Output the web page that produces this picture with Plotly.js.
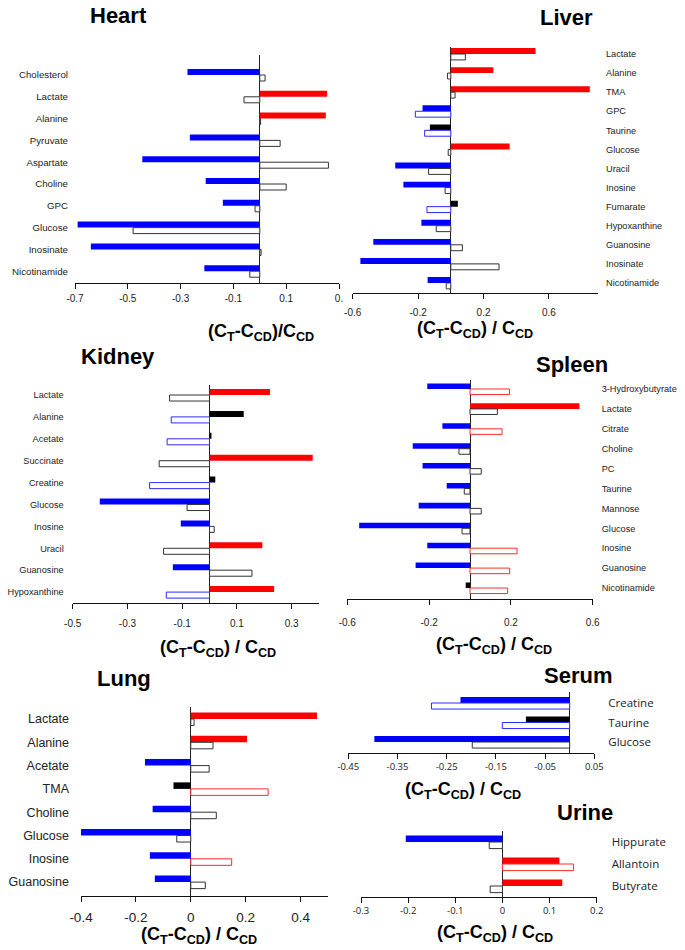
<!DOCTYPE html>
<html>
<head>
<meta charset="utf-8">
<script src="https://cdn.plot.ly/plotly-3.0.1.min.js"></script>
<style>html,body{margin:0;padding:0;background:#fff;}#chart{width:685px;height:950px;}</style>
</head>
<body>
<div id="chart"></div>
<script>
// ---------------- DATA ----------------
// A = filled bars (upper), B = hollow bars (lower); sig: 'u' increase, 'd' decrease, 'n' not significant
const heartCats = ['Cholesterol','Lactate','Alanine','Pyruvate','Aspartate','Choline','GPC','Glucose','Inosinate','Nicotinamide'];
const heartA = [-0.274, 0.255, 0.25, -0.265, -0.445, -0.205, -0.14, -0.69, -0.64, -0.21];
const heartB = [0.02, -0.06, 0.003, 0.077, 0.26, 0.1, -0.018, -0.48, 0.005, -0.038];
const heartSigA = ['d','u','u','d','d','d','d','d','d','d'];
const heartSigB = ['n','n','n','n','n','n','n','n','n','n'];
const heartTicks = [-0.7,-0.5,-0.3,-0.1,0.1,0.3];
const heartTickText = ['-0.7','-0.5','-0.3','-0.1','0.1','0.'];

const liverCats = ['Lactate','Alanine','TMA','GPC','Taurine','Glucose','Uracil','Inosine','Fumarate','Hypoxanthine','Guanosine','Inosinate','Nicotinamide'];
const liverA = [0.518, 0.26, 0.85, -0.173, -0.128, 0.36, -0.34, -0.29, 0.043, -0.18, -0.474, -0.553, -0.142];
const liverB = [0.089, -0.02, 0.026, -0.217, -0.16, -0.016, -0.136, -0.035, -0.146, -0.089, 0.071, 0.295, -0.028];
const liverSigA = ['u','u','u','d','n','u','d','d','n','d','d','d','d'];
const liverSigB = ['n','n','n','d','d','n','n','n','d','n','n','n','n'];
const liverTicks = [-0.6,-0.2,0.2,0.6];
const liverTickText = ['-0.6','-0.2','0.2','0.6'];

const kidneyCats = ['Lactate','Alanine','Acetate','Succinate','Creatine','Glucose','Inosine','Uracil','Guanosine','Hypoxanthine'];
const kidneyA = [0.221, 0.125, 0.007, 0.377, 0.021, -0.401, -0.105, 0.193, -0.134, 0.236];
const kidneyB = [-0.146, -0.14, -0.155, -0.184, -0.219, -0.082, 0.017, -0.168, 0.155, -0.158];
const kidneySigA = ['u','n','n','u','n','d','d','u','d','u'];
const kidneySigB = ['n','d','d','n','d','n','n','n','n','d'];
const kidneyTicks = [-0.5,-0.3,-0.1,0.1,0.3];
const kidneyTickText = ['-0.5','-0.3','-0.1','0.1','0.3'];

const spleenCats = ['3-Hydroxybutyrate','Lactate','Citrate','Choline','PC','Taurine','Mannose','Glucose','Inosine','Guanosine','Nicotinamide'];
const spleenA = [-0.209, 0.535, -0.135, -0.28, -0.232, -0.114, -0.251, -0.542, -0.209, -0.266, -0.021];
const spleenB = [0.193, 0.134, 0.157, -0.054, 0.055, -0.028, 0.055, -0.039, 0.23, 0.194, 0.184];
const spleenSigA = ['d','u','d','d','d','d','d','d','d','d','n'];
const spleenSigB = ['u','n','u','n','n','n','n','n','u','u','u'];
const spleenTicks = [-0.6,-0.2,0.2,0.6];
const spleenTickText = ['-0.6','-0.2','0.2','0.6'];

const lungCats = ['Lactate','Alanine','Acetate','TMA','Choline','Glucose','Inosine','Guanosine'];
const lungA = [0.46, 0.205, -0.167, -0.063, -0.139, -0.4, -0.149, -0.131];
const lungB = [0.012, 0.081, 0.067, 0.282, 0.093, -0.051, 0.149, 0.053];
const lungSigA = ['u','u','d','n','d','d','d','d'];
const lungSigB = ['n','n','n','u','n','n','u','n'];
const lungTicks = [-0.4,-0.2,0,0.2,0.4];
const lungTickText = ['-0.4','-0.2','0','0.2','0.4'];

const serumCats = ['Creatine','Taurine','Glucose'];
const serumA = [-0.222, -0.089, -0.397];
const serumB = [-0.281, -0.137, -0.198];
const serumSigA = ['d','n','d'];
const serumSigB = ['d','d','n'];
const serumTicks = [-0.45,-0.35,-0.25,-0.15,-0.05,0.05];
const serumTickText = ['-0.45','-0.35','-0.25','-0.15','-0.05','0.05'];

const urineCats = ['Hippurate','Allantoin','Butyrate'];
const urineA = [-0.205, 0.121, 0.127];
const urineB = [-0.028, 0.151, -0.026];
const urineSigA = ['d','u','u'];
const urineSigB = ['n','u','n'];
const urineTicks = [-0.3,-0.2,-0.1,0,0.1,0.2];
const urineTickText = ['-0.3','-0.2','-0.1','0','0.1','0.2'];

const panelNames = ['Heart','Liver','Kidney','Spleen','Lung','Serum','Urine'];

// ---------------- STYLE / LAYOUT ----------------
const W = 685, H = 950;
const FILL = {u:'#ff0000', d:'#0000ff', n:'#000000'};
const EDGE = {u:'#ff2a2a', d:'#2a2aff', n:'#333333'};
const ARIAL = '"Liberation Sans",Arial,Helvetica,sans-serif';
const OPEN = '"Open Sans","Noto Sans",Arial,sans-serif';

const panels = [
  {cats:heartCats, a:heartA, b:heartB, sa:heartSigA, sb:heartSigB, tv:heartTicks, tt:heartTickText,
   xr:[-0.7,0.3], px:[75,339], py:[55,283], first:75, step:21.8, w:0.275, side:'left', lf:ARIAL, ls:9.7, tf:ARIAL, ts:10, lsd:6, tsd:1,
   title:[118.5,16], atitle:[260.5,332], atext:'(C<sub>T</sub>-C<sub>CD</sub>)/C<sub>CD</sub>'},
  {cats:liverCats, a:liverA, b:liverB, sa:liverSigA, sb:liverSigB, tv:liverTicks, tt:liverTickText,
   xr:[-0.6,0.9], px:[352.7,598], py:[47,293], first:54, step:19.08, w:0.31, side:'right', lf:ARIAL, ls:9.2, tf:ARIAL, ts:10, lsd:7, tsd:5,
   title:[566,17], atitle:[475,330], atext:'(C<sub>T</sub>-C<sub>CD</sub>) / C<sub>CD</sub>'},
  {cats:kidneyCats, a:kidneyA, b:kidneyB, sa:kidneySigA, sb:kidneySigB, tv:kidneyTicks, tt:kidneyTickText,
   xr:[-0.5,0.4], px:[72.7,319], py:[385,603], first:395, step:21.9, w:0.275, side:'left', lf:ARIAL, ls:9.2, tf:ARIAL, ts:10, lsd:8, tsd:6,
   title:[117.5,356], atitle:[217.5,648], atext:'(C<sub>T</sub>-C<sub>CD</sub>) / C<sub>CD</sub>'},
  {cats:spleenCats, a:spleenA, b:spleenB, sa:spleenSigA, sb:spleenSigB, tv:spleenTicks, tt:spleenTickText,
   xr:[-0.6,0.6], px:[347.3,592.7], py:[380,599], first:389, step:19.9, w:0.28, side:'right', lf:ARIAL, ls:9.2, tf:ARIAL, ts:10, lsd:8, tsd:9,
   title:[572,364], atitle:[493.5,645], atext:'(C<sub>T</sub>-C<sub>CD</sub>) / C<sub>CD</sub>'},
  {cats:lungCats, a:lungA, b:lungB, sa:lungSigA, sb:lungSigB, tv:lungTicks, tt:lungTickText,
   xr:[-0.4,0.5], px:[81,328], py:[707,896], first:719, step:23.3, w:0.28, side:'left', lf:ARIAL, ls:12.5, tf:ARIAL, ts:13.5, lsd:11, tsd:4,
   title:[124,678], atitle:[199,935], atext:'(C<sub>T</sub>-C<sub>CD</sub>) / C<sub>CD</sub>'},
  {cats:serumCats, a:serumA, b:serumB, sa:serumSigA, sb:serumSigB, tv:serumTicks, tt:serumTickText,
   xr:[-0.45,0.05], px:[348.3,594.3], py:[692,753], first:703, step:19.5, w:0.31, side:'right', lf:OPEN, ls:11.5, tf:OPEN, ts:9.5, lsd:13, tsd:0,
   title:[578,675], atitle:[463,790], atext:'(C<sub>T</sub>-C<sub>CD</sub>) / C<sub>CD</sub>'},
  {cats:urineCats, a:urineA, b:urineB, sa:urineSigA, sb:urineSigB, tv:urineTicks, tt:urineTickText,
   xr:[-0.3,0.2], px:[361,596.7], py:[831,897], first:842, step:22, w:0.3, side:'right', lf:OPEN, ls:11.5, tf:OPEN, ts:9.5, lsd:14, tsd:0,
   title:[584.5,812], atitle:[495,933], atext:'(C<sub>T</sub>-C<sub>CD</sub>) / C<sub>CD</sub>'}
];

const data = [];
const layout = {
  width: W, height: H,
  margin: {l:0, r:0, t:0, b:0},
  paper_bgcolor: '#ffffff', plot_bgcolor: 'rgba(0,0,0,0)',
  showlegend: false,
  barmode: 'group',
  annotations: []
};

panels.forEach((p, i) => {
  const n = i === 0 ? '' : String(i + 1);
  const xa = 'x' + n, ya = 'y' + n;
  data.push({
    type:'bar', orientation:'h', x:p.a, y:p.cats, xaxis:xa, yaxis:ya,
    width:p.w, offset:-p.w,
    marker:{color:p.sa.map(s => FILL[s]), line:{width:0}},
    hoverinfo:'x+y', name: panelNames[i] + ' A'
  });
  data.push({
    type:'bar', orientation:'h', x:p.b, y:p.cats, xaxis:xa, yaxis:ya,
    width:p.w, offset:0,
    marker:{color:'#ffffff', line:{width:1, color:p.sb.map(s => EDGE[s])}},
    hoverinfo:'x+y', name: panelNames[i] + ' B'
  });
  const last = p.cats.length - 1;
  const lastPx = p.first + p.step * last;
  const yTop = 0 - (p.first - p.py[0]) / p.step;
  const yBot = last + (p.py[1] - lastPx) / p.step;
  layout['xaxis' + n] = {
    domain:[p.px[0]/W, p.px[1]/W], anchor:ya, range:p.xr,
    showline:true, linecolor:'#111', linewidth:1, mirror:false,
    ticks:'outside', ticklen:5, tickwidth:1, tickcolor:'#111',
    tickmode:'array', tickvals:p.tv, ticktext:p.tt,
    tickfont:{family:p.tf, size:p.ts, color:'#222'}, ticklabelstandoff:p.tsd,
    showgrid:false, zeroline:true, zerolinecolor:'#222', zerolinewidth:1,
    fixedrange:true
  };
  layout['yaxis' + n] = {
    domain:[1 - p.py[1]/H, 1 - p.py[0]/H], anchor:xa, side:p.side,
    type:'category', categoryorder:'array', categoryarray:p.cats,
    range:[yBot, yTop],
    showline:false, showgrid:false, zeroline:false, ticks:'',
    tickfont:{family:p.lf, size:p.ls, color:'#222'}, ticklabelstandoff:p.lsd,
    fixedrange:true
  };
  layout.annotations.push({
    xref:'paper', yref:'paper', x:p.title[0]/W, y:1 - p.title[1]/H,
    xanchor:'center', yanchor:'middle', showarrow:false,
    text:panelNames[i], font:{family:ARIAL, size:22, color:'#000', weight:'bold'}
  });
  layout.annotations.push({
    xref:'paper', yref:'paper', x:p.atitle[0]/W, y:1 - p.atitle[1]/H,
    xanchor:'center', yanchor:'middle', showarrow:false,
    text:p.atext, font:{family:ARIAL, size:18, color:'#000', weight:'bold'}
  });
});

Plotly.newPlot('chart', data, layout, {staticPlot:true, displayModeBar:false});
</script>
</body>
</html>
